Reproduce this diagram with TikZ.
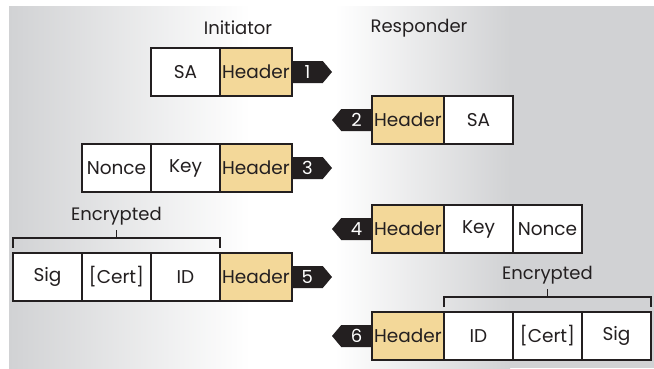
\documentclass[tikz,border=0pt]{standalone}
\usepackage{fontspec}
\setmainfont{Poppins}
\usepackage{tikz}
\usetikzlibrary{positioning, shapes.symbols}
\definecolor{ink}{HTML}{231F20}
\definecolor{hdrtan}{HTML}{F3D899}
\definecolor{bggray}{HTML}{D1D2D4}

\tikzset{
    cell/.style={draw=ink, line width=1.2pt, fill=white, text=ink, inner sep=0, outer sep=0,
        minimum width=69pt, minimum height=48pt, font=\fontsize{18.5}{22}\selectfont},
    hdr/.style={cell, fill=hdrtan, minimum width=72pt},
    tagr/.style={signal, signal to=east, signal pointer angle=100, fill=ink, text=white,
        inner sep=0, outer sep=0, minimum width=40pt, minimum height=22pt,
        font=\fontsize{18}{22}\selectfont},
    tagl/.style={tagr, signal to=west},
    bracket/.style={draw=ink, line width=1.8pt},
    lbl/.style={text=ink, font=\fontsize{18}{22}\selectfont},
}

\begin{document}
\begin{tikzpicture}[x=1pt, y=1pt]
    \useasboundingbox (0,0) rectangle (654,-368);
    % background
    \fill[left color=bggray, right color=white] (9,-6) rectangle (250,-368);
    \fill[white] (249,-6) rectangle (336,-368);
    \fill[left color=white, right color=bggray] (335,-6) rectangle (510,-368);
    \fill[bggray] (509,-6) rectangle (654,-368);

    \node[lbl] (init) at (238,-28) {Initiator};
    \node[lbl] (resp) at (419,-28) {Responder};

    % 1
    \node[hdr] (h1) at (256,-72) {Header};
    \node[cell, left=0pt of h1] (sa1) {SA};
    \node[tagr, right=0pt of h1] (t1) {1};

    % 2
    \node[hdr] (h2) at (408,-120) {Header};
    \node[cell, right=0pt of h2] (sa2) {SA};
    \node[tagl, left=0pt of h2] (t2) {2};

    % 3
    \node[hdr] (h3) at (256,-168) {Header};
    \node[cell, left=0pt of h3] (key3) {Key};
    \node[cell, left=0pt of key3] (nonce3) {Nonce};
    \node[tagr, right=0pt of h3] (t3) {3};

    % 4
    \node[hdr] (h4) at (408,-229) {Header};
    \node[cell, right=0pt of h4] (key4) {Key};
    \node[cell, right=0pt of key4] (nonce4) {Nonce};
    \node[tagl, left=0pt of h4] (t4) {4};

    % 5
    \node[hdr] (h5) at (256,-277) {Header};
    \node[cell, left=0pt of h5] (id5) {ID};
    \node[cell, left=0pt of id5] (cert5) {[Cert]};
    \node[cell, left=0pt of cert5] (sig5) {Sig};
    \node[tagr, right=0pt of h5] (t5) {5};
    \draw[bracket] ([yshift=5pt]sig5.north west) -- ++(0,10) -| ([yshift=5pt]h5.north west);
    \path ([yshift=15pt]sig5.north west) -- ([yshift=15pt]h5.north west) coordinate[midway] (m5);
    \draw[bracket] (m5) -- ++(0,8) coordinate (k5);
    \node[lbl, anchor=base] (enc5) at ([yshift=10pt]k5) {Encrypted};

    % 6
    \node[hdr] (h6) at (408,-336) {Header};
    \node[cell, right=0pt of h6] (id6) {ID};
    \node[cell, right=0pt of id6] (cert6) {[Cert]};
    \node[cell, right=0pt of cert6] (sig6) {Sig};
    \node[tagl, left=0pt of h6] (t6) {6};
    \draw[bracket] ([yshift=5pt]id6.north west) -- ++(0,10) -| ([yshift=5pt]sig6.north east);
    \path ([yshift=15pt]id6.north west) -- ([yshift=15pt]sig6.north east) coordinate[midway] (m6);
    \draw[bracket] (m6) -- ++(0,8) coordinate (k6);
    \node[lbl, anchor=base] (enc6) at ([yshift=10pt]k6) {Encrypted};
\end{tikzpicture}
\end{document}
